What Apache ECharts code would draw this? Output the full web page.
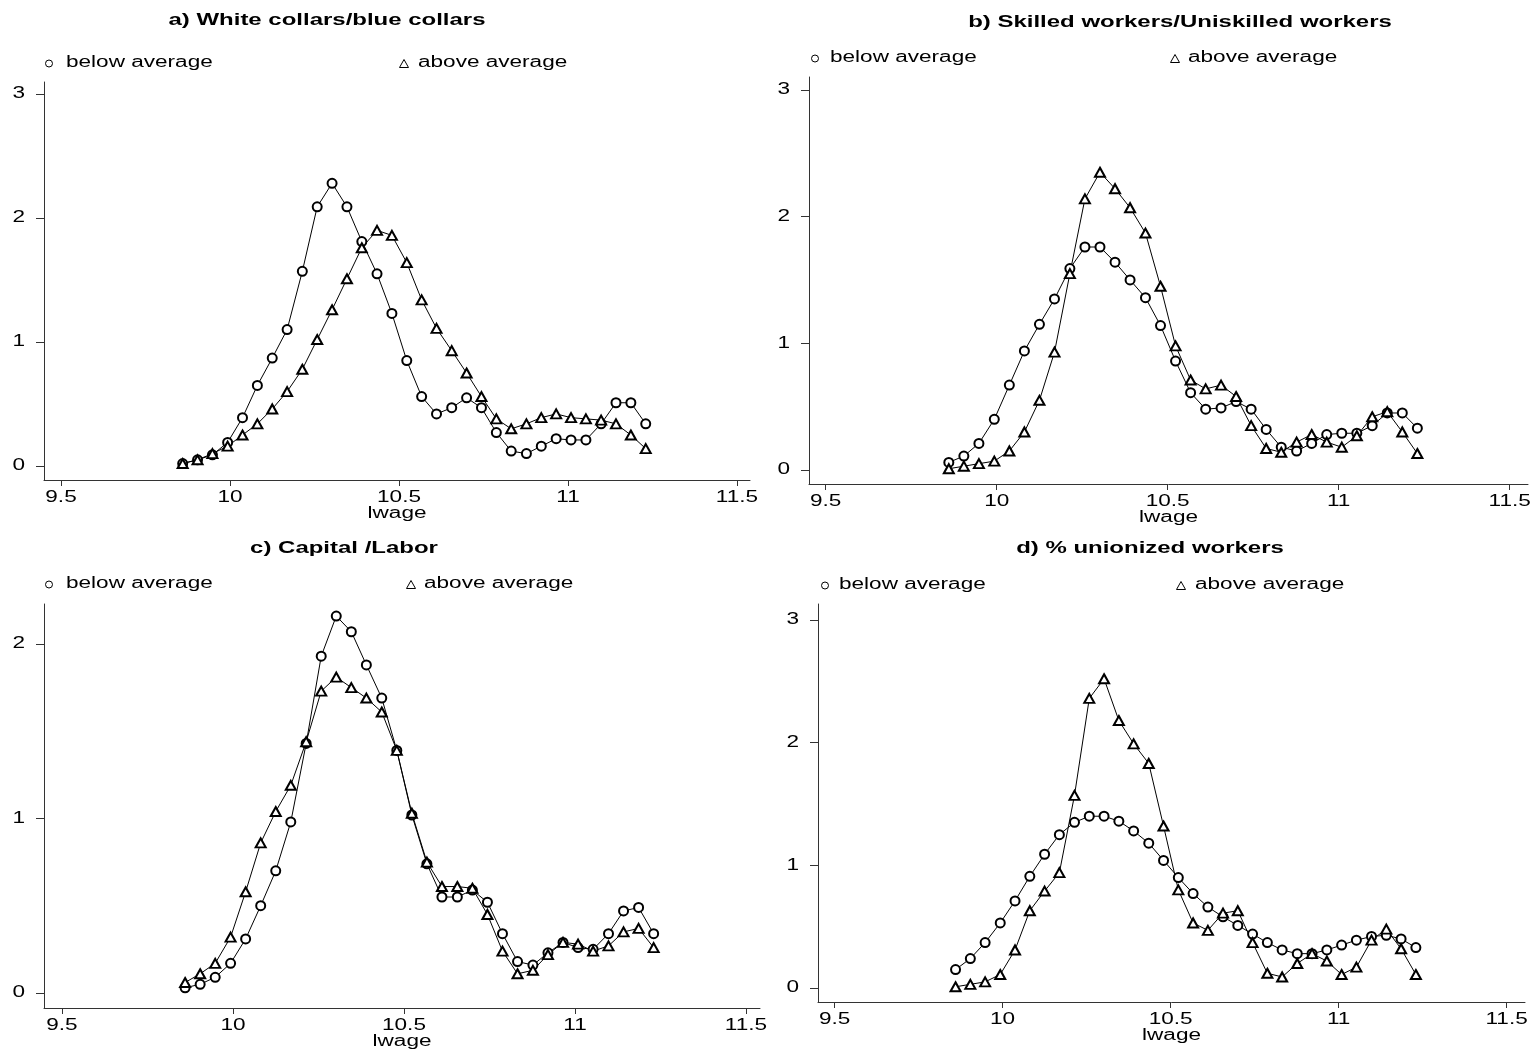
<!DOCTYPE html>
<html>
<head>
<meta charset="utf-8">
<script src="https://cdn.jsdelivr.net/npm/echarts@6/dist/echarts.min.js"></script>
<style>
html,body{margin:0;padding:0;background:#fff;}
#chart{width:1539px;height:1050px;}
</style>
</head>
<body>
<div id="chart"></div>
<script>
// shared evaluation grid (lwage)
const lwage = [9.86,9.904,9.948,9.993,10.037,10.081,10.125,10.169,10.214,10.258,10.302,10.346,10.390,10.435,10.479,10.523,10.567,10.611,10.656,10.700,10.744,10.788,10.832,10.877,10.921,10.965,11.009,11.053,11.098,11.142,11.186,11.230];

const xTicks = [9.5, 10, 10.5, 11, 11.5];
const yTicks3 = [0, 1, 2, 3];
const yTicks2 = [0, 1, 2];

const titles = ['a) White collars/blue collars', 'b) Skilled workers/Uniskilled workers', 'c) Capital /Labor', 'd) % unionized workers'];
const legendNames = ['below average', 'above average'];
const xName = 'lwage';

// a) White collars/blue collars
const aBelow = [0.02,0.05,0.09,0.19,0.39,0.65,0.87,1.10,1.57,2.09,2.28,2.09,1.81,1.55,1.23,0.85,0.56,0.42,0.47,0.55,0.47,0.27,0.12,0.10,0.16,0.22,0.21,0.21,0.34,0.51,0.51,0.34];
const aAbove = [0.02,0.05,0.10,0.16,0.25,0.34,0.46,0.60,0.78,1.02,1.26,1.51,1.76,1.90,1.86,1.64,1.34,1.11,0.93,0.75,0.56,0.38,0.30,0.34,0.39,0.42,0.39,0.38,0.37,0.34,0.25,0.14];
// b) Skilled/Unskilled
const bBelow = [0.06,0.11,0.21,0.40,0.67,0.94,1.15,1.35,1.59,1.76,1.76,1.64,1.50,1.36,1.14,0.86,0.61,0.48,0.49,0.54,0.48,0.32,0.18,0.15,0.21,0.28,0.29,0.29,0.35,0.45,0.45,0.33];
const bAbove = [0.01,0.03,0.05,0.07,0.15,0.30,0.55,0.93,1.55,2.14,2.35,2.22,2.07,1.87,1.45,0.98,0.71,0.64,0.67,0.58,0.35,0.17,0.14,0.22,0.28,0.22,0.18,0.27,0.42,0.46,0.30,0.13];
// c) Capital/Labor
const cBelow = [0.03,0.05,0.09,0.17,0.31,0.50,0.70,0.98,1.43,1.93,2.16,2.07,1.88,1.69,1.39,1.02,0.74,0.55,0.55,0.59,0.52,0.34,0.18,0.16,0.23,0.29,0.26,0.25,0.34,0.47,0.49,0.34];
const cAbove = [0.06,0.11,0.17,0.32,0.58,0.86,1.04,1.19,1.44,1.73,1.81,1.75,1.69,1.61,1.39,1.03,0.75,0.61,0.61,0.60,0.45,0.24,0.11,0.13,0.22,0.29,0.28,0.24,0.27,0.35,0.37,0.26];
// d) % unionized workers
const dBelow = [0.15,0.24,0.37,0.53,0.71,0.91,1.09,1.25,1.35,1.40,1.40,1.36,1.28,1.18,1.04,0.90,0.77,0.66,0.58,0.51,0.44,0.37,0.31,0.28,0.28,0.31,0.35,0.39,0.42,0.43,0.40,0.33];
const dAbove = [0.01,0.03,0.05,0.11,0.31,0.63,0.79,0.94,1.57,2.36,2.52,2.18,1.99,1.83,1.32,0.80,0.53,0.47,0.61,0.63,0.37,0.12,0.09,0.20,0.28,0.22,0.11,0.17,0.39,0.48,0.32,0.11];

const FONT_FAMILY = '"Liberation Sans", Arial, Helvetica, sans-serif';
const STRETCH = 1.41;   // reference text is horizontally stretched

const panels = [
  {grid:{left:44, top:82, width:706, height:398}, x:[9.4497,11.5385], y:[-0.1129,3.0968], yt:yTicks3, below:aBelow, above:aAbove,
   title:{x:327, y:20}, icon:[{x:46,y:59},{x:400,y:59}], legText:[{x:66,y:63},{x:418,y:63}]},
  {grid:{left:809, top:77, width:719, height:407}, x:[9.4512,11.5535], y:[-0.1105,3.1018], yt:yTicks3, below:bBelow, above:bAbove,
   title:{x:1180, y:22}, icon:[{x:812,y:54},{x:1171,y:54}], legText:[{x:830,y:58},{x:1188,y:58}]},
  {grid:{left:44, top:604, width:716, height:404}, x:[9.4474,11.541], y:[-0.0860,2.229], yt:yTicks2, below:cBelow, above:cAbove,
   title:{x:344, y:548}, icon:[{x:46,y:580},{x:407,y:580}], legText:[{x:66,y:584},{x:424,y:584}]},
  {grid:{left:818, top:604, width:707, height:398}, x:[9.4506,11.5548], y:[-0.114,3.1295], yt:yTicks3, below:dBelow, above:dAbove,
   title:{x:1150, y:548}, icon:[{x:822,y:581},{x:1177,y:581}], legText:[{x:839,y:585},{x:1195,y:585}]}
];

const axisColor = '#333';
const grids = [], xAxes = [], yAxes = [], series = [], legends = [];

panels.forEach((p, i) => {
  grids.push(Object.assign({containLabel:false}, p.grid));
  xAxes.push({
    type:'value', gridIndex:i, min:p.x[0], max:p.x[1],
    axisLine:{show:true, onZero:false, lineStyle:{color:axisColor, width:1}},
    axisTick:{show:true, length:6, customValues:xTicks, lineStyle:{color:axisColor}},
    axisLabel:{show:false},
    splitLine:{show:false}
  });
  yAxes.push({
    type:'value', gridIndex:i, min:p.y[0], max:p.y[1],
    axisLine:{show:true, onZero:false, lineStyle:{color:axisColor, width:1}},
    axisTick:{show:true, length:8, customValues:p.yt, lineStyle:{color:axisColor}},
    axisLabel:{show:false},
    splitLine:{show:false}
  });
  const mk = (vals) => lwage.map((x, k) => [x, vals[k]]);
  series.push({
    type:'line', name:legendNames[0], xAxisIndex:i, yAxisIndex:i, data:mk(p.below),
    symbol:'emptyCircle', symbolSize:9, showAllSymbol:true,
    lineStyle:{color:'#000', width:1}, itemStyle:{color:'#000', borderWidth:1},
    animation:false, z:3
  });
  series.push({
    type:'line', name:legendNames[1], xAxisIndex:i, yAxisIndex:i, data:mk(p.above),
    symbol:'emptyTriangle', symbolSize:[10,9], showAllSymbol:true,
    lineStyle:{color:'#000', width:1}, itemStyle:{color:'#000', borderWidth:1},
    animation:false, z:3
  });
  legendNames.forEach((nm, j) => {
    const w = j === 0 ? 7 : 9, h = j === 0 ? 7 : 8;
    legends.push({
      data:[{name:nm, icon: j === 0 ? 'circle' : 'triangle'}],
      left:p.icon[j].x - 1, top:p.legText[j].y - h / 2, padding:0,
      itemWidth:w, itemHeight:h,
      selectedMode:false, formatter:() => '',
      itemStyle:{color:'#fff', borderColor:'#000', borderWidth:1},
      textStyle:{fontSize:1}
    });
  });
});

const chart = echarts.init(document.getElementById('chart'), null, {renderer:'canvas'});
chart.setOption({
  backgroundColor:'#fff',
  animation:false,
  legend:legends,
  grid:grids,
  xAxis:xAxes,
  yAxis:yAxes,
  series:series
});

// Text (stretched horizontally like the reference), placed through the axes' own scales
function txt(text, x, y, align, size, bold) {
  return {
    type:'text', x:x, y:y, scaleX:STRETCH, scaleY:1, silent:true, z:10,
    style:{
      text:text, fill:'#000',
      font:(bold ? 'bold ' : '') + size + 'px ' + FONT_FAMILY,
      align:align, verticalAlign:'middle',
      textAlign:align, textVerticalAlign:'middle'
    }
  };
}
const gfx = [];
panels.forEach((p, i) => {
  const finder = {xAxisIndex:i, yAxisIndex:i};
  xTicks.forEach(v => {
    const pt = chart.convertToPixel(finder, [v, p.y[0]]);
    gfx.push(txt(String(v), pt[0], pt[1] + 18, 'center', 16, false));
  });
  p.yt.forEach(v => {
    const pt = chart.convertToPixel(finder, [p.x[0], v]);
    gfx.push(txt(String(v), pt[0] - 19, pt[1], 'right', 16, false));
  });
  const mid = chart.convertToPixel(finder, [(p.x[0] + p.x[1]) / 2, p.y[0]]);
  gfx.push(txt(xName, mid[0], mid[1] + 34, 'center', 16, false));
  gfx.push(txt(titles[i], p.title.x, p.title.y, 'center', 17, true));
  legendNames.forEach((nm, j) => {
    gfx.push(txt(nm, p.legText[j].x, p.legText[j].y, 'left', 16, false));
  });
});
chart.setOption({graphic:{elements:gfx}});
</script>
</body>
</html>
